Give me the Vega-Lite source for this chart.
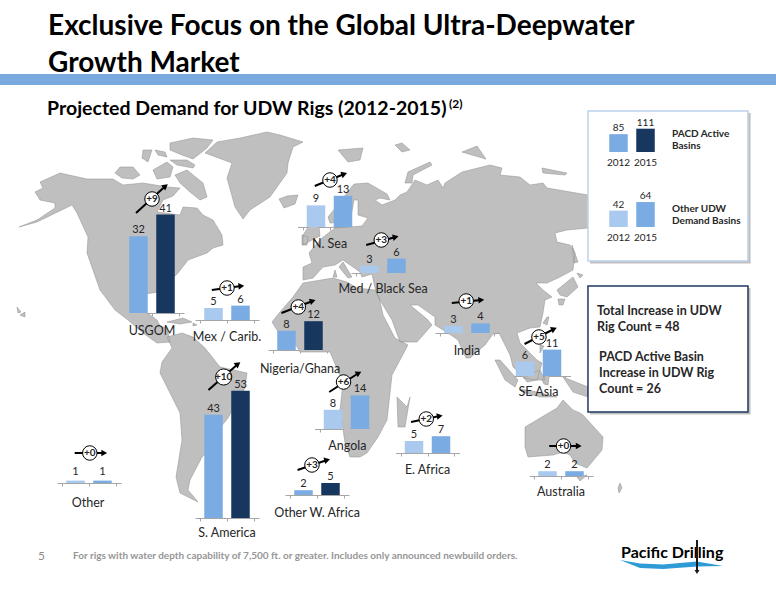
{
"$schema":"https://vega.github.io/schema/vega-lite/v6.json",
"width":776,"height":600,"padding":0,"autosize":{"type":"none"},"background":"#ffffff",
"config":{"view":{"stroke":null},"font":"Lato","legend":{"disable":true},"axis":{"disable":true,"grid":false,"labels":false,"domainColor":"#a6a6a6","tickColor":"#a6a6a6","tickSize":3,"zindex":1},"text":{"font":"Lato","fontSize":11,"color":"#262626","baseline":"alphabetic"},"rule":{"color":"#000000","strokeWidth":2}},
"data":{"values":[
{"region":"USGOM","year":2012,"rigs":32,"basin":"PACD","delta":"+9"},{"region":"USGOM","year":2015,"rigs":41,"basin":"PACD","delta":"+9"},
{"region":"Mex / Carib.","year":2012,"rigs":5,"basin":"Other","delta":"+1"},{"region":"Mex / Carib.","year":2015,"rigs":6,"basin":"Other","delta":"+1"},
{"region":"N. Sea","year":2012,"rigs":9,"basin":"Other","delta":"+4"},{"region":"N. Sea","year":2015,"rigs":13,"basin":"Other","delta":"+4"},
{"region":"Med / Black Sea","year":2012,"rigs":3,"basin":"Other","delta":"+3"},{"region":"Med / Black Sea","year":2015,"rigs":6,"basin":"Other","delta":"+3"},
{"region":"Nigeria/Ghana","year":2012,"rigs":8,"basin":"PACD","delta":"+4"},{"region":"Nigeria/Ghana","year":2015,"rigs":12,"basin":"PACD","delta":"+4"},
{"region":"India","year":2012,"rigs":3,"basin":"Other","delta":"+1"},{"region":"India","year":2015,"rigs":4,"basin":"Other","delta":"+1"},
{"region":"SE Asia","year":2012,"rigs":6,"basin":"Other","delta":"+5"},{"region":"SE Asia","year":2015,"rigs":11,"basin":"Other","delta":"+5"},
{"region":"Australia","year":2012,"rigs":2,"basin":"Other","delta":"+0"},{"region":"Australia","year":2015,"rigs":2,"basin":"Other","delta":"+0"},
{"region":"E. Africa","year":2012,"rigs":5,"basin":"Other","delta":"+2"},{"region":"E. Africa","year":2015,"rigs":7,"basin":"Other","delta":"+2"},
{"region":"Angola","year":2012,"rigs":8,"basin":"Other","delta":"+6"},{"region":"Angola","year":2015,"rigs":14,"basin":"Other","delta":"+6"},
{"region":"Other W. Africa","year":2012,"rigs":2,"basin":"PACD","delta":"+3"},{"region":"Other W. Africa","year":2015,"rigs":5,"basin":"PACD","delta":"+3"},
{"region":"S. America","year":2012,"rigs":43,"basin":"PACD","delta":"+10"},{"region":"S. America","year":2015,"rigs":53,"basin":"PACD","delta":"+10"},
{"region":"Other","year":2012,"rigs":1,"basin":"Other","delta":"+0"},{"region":"Other","year":2015,"rigs":1,"basin":"Other","delta":"+0"},
{"region":"PACD Active Basins","year":2012,"rigs":85,"basin":"PACD"},{"region":"PACD Active Basins","year":2015,"rigs":111,"basin":"PACD"},
{"region":"Other UDW Demand Basins","year":2012,"rigs":42,"basin":"Other"},{"region":"Other UDW Demand Basins","year":2015,"rigs":64,"basin":"Other"}
]},
"transform":[{"calculate":"datum.basin+datum.year","as":"key"}],
"resolve":{"scale":{"x":"independent","y":"independent"}},
"layer":[
{"data":{"values":[
{"type":"Feature","properties":{"name":"land"},"geometry":{"type":"MultiPolygon","coordinates":[
[[[1.9,22.7],[3.7,22.0],[5.5,20.8],[5.5,20.3],[4.0,20.0],[3.5,19.2],[4.3,18.8],[4.0,18.2],[6.0,17.3],[8.7,17.9],[11.3,17.9],[12.3,18.5],[14.3,18.3],[16.7,18.7],[18.0,18.8],[17.3,19.6],[16.3,20.0],[15.7,21.2],[18.0,21.5],[18.3,20.7],[19.7,20.8],[20.3,21.5],[21.3,22.0],[22.2,23.5],[22.3,24.5],[21.3,24.8],[20.7,25.3],[18.8,26.0],[17.8,27.3],[15.9,29.2],[14.5,29.4],[14.6,31.2],[15.7,32.0],[16.0,32.6],[16.7,32.8],[17.0,34.2],[15.7,34.3],[14.3,33.3],[12.8,32.0],[11.5,31.0],[10.0,29.0],[8.7,25.3],[8.8,23.7],[7.7,21.3],[7.2,20.5],[3.7,22.2],[1.9,22.7]]],
[[[17.5,17.5],[18.7,17.0],[20.3,18.3],[20.7,19.7],[20.0,20.0],[19.0,19.2],[18.0,18.3],[17.5,17.5]]],
[[[11.5,17.3],[12.0,16.7],[13.3,16.7],[14.0,17.5],[13.3,17.9],[12.2,17.8],[11.5,17.3]]],
[[[15.3,17.0],[16.7,16.2],[17.3,16.7],[17.0,17.7],[15.7,17.9],[15.3,17.0]]],
[[[17.0,16.0],[18.7,16.0],[19.5,16.5],[19.3,16.8],[17.7,16.5],[17.0,16.0]]],
[[[17.0,14.3],[19.3,13.8],[21.3,14.0],[20.7,14.8],[19.3,15.9],[18.2,15.5],[17.0,15.0],[17.0,14.3]]],
[[[14.3,15.0],[15.2,15.0],[14.8,16.2],[14.2,15.8],[14.3,15.0]]],
[[[15.5,15.0],[16.5,15.2],[16.7,15.7],[15.8,15.5],[15.5,15.0]]],
[[[20.5,15.3],[21.7,14.2],[24.0,13.8],[26.7,13.2],[28.0,13.5],[30.3,14.2],[29.3,14.7],[28.8,16.3],[28.7,17.3],[27.0,19.7],[25.0,21.0],[24.3,21.9],[23.5,20.7],[22.7,17.8],[23.2,16.3],[20.5,15.3]]],
[[[27.9,19.9],[28.7,19.6],[29.8,19.5],[29.5,20.4],[28.4,20.8],[27.9,19.9]]],
[[[1.7,30.7],[2.1,31.2],[1.8,31.3],[1.7,30.7]]],[[[2.0,31.5],[2.5,31.2],[2.5,31.7],[2.0,31.5]]],
[[[16.7,32.2],[18.3,31.8],[19.2,32.2],[18.0,32.4],[16.7,32.2]]],[[[19.3,32.3],[19.7,32.5],[19.3,32.6],[19.3,32.3]]],
[[[16.7,33.7],[18.2,33.3],[19.3,33.7],[20.5,34.8],[22.0,36.7],[24.7,37.3],[24.5,38.8],[22.8,41.8],[22.0,42.8],[22.0,44.0],[20.2,45.7],[19.0,48.0],[18.8,49.0],[19.8,50.2],[18.0,49.3],[17.6,47.7],[18.2,44.0],[18.0,41.3],[16.0,37.3],[16.2,36.2],[17.2,34.8],[16.7,33.7]]],
[[[30.3,28.0],[30.3,26.7],[31.2,26.3],[30.9,25.3],[31.3,24.8],[32.2,23.8],[33.5,22.8],[36.2,22.6],[36.8,21.8],[35.8,21.5],[35.8,20.0],[35.4,20.0],[35.0,22.2],[33.0,22.3],[32.8,21.7],[33.6,20.7],[35.4,18.4],[36.8,18.3],[38.7,19.4],[39.0,20.0],[38.0,19.8],[37.5,20.0],[38.2,20.5],[39.5,20.0],[40.0,19.5],[40.7,19.2],[41.5,18.0],[42.7,18.5],[43.8,18.0],[44.3,18.8],[44.5,18.3],[46.2,17.2],[49.0,16.5],[50.2,16.8],[50.0,17.5],[52.0,17.7],[53.0,18.5],[54.3,18.3],[54.7,18.8],[58.8,19.5],[60.0,21.0],[58.8,22.8],[56.7,23.0],[55.5,23.3],[55.7,24.2],[57.0,24.5],[57.5,25.3],[57.3,27.0],[56.0,27.7],[54.7,28.3],[53.6,28.3],[54.3,29.0],[55.2,29.7],[54.5,30.0],[54.3,31.3],[54.0,32.7],[53.0,32.8],[51.7,33.3],[52.0,34.3],[53.7,36.0],[54.2,36.3],[53.7,38.0],[52.7,38.2],[52.2,37.5],[51.3,36.7],[51.0,35.5],[50.5,34.5],[49.9,33.3],[49.3,33.4],[48.5,34.5],[47.0,35.8],[46.6,35.8],[45.8,34.0],[44.8,33.3],[43.5,32.5],[43.5,31.7],[41.8,30.5],[41.0,30.5],[42.7,31.9],[43.2,32.5],[41.7,34.2],[40.0,34.2],[39.2,32.0],[37.8,29.7],[37.5,28.8],[37.2,27.4],[36.2,27.7],[36.0,27.2],[34.3,26.0],[33.5,26.5],[32.3,26.7],[31.3,27.8],[30.3,28.0]]],
[[[34.3,26.2],[35.2,27.7],[34.8,27.8],[33.9,26.7],[34.3,26.2]]],[[[33.5,27.0],[33.7,27.7],[33.3,27.7],[33.5,27.0]]],
[[[30.9,22.6],[31.9,22.6],[32.0,23.6],[31.2,24.0],[30.3,24.5],[30.3,23.5],[30.9,22.6]]],[[[30.2,23.5],[30.8,23.7],[30.7,24.5],[30.2,24.5],[30.2,23.5]]],
[[[33.8,15.0],[36.3,14.8],[36.0,16.0],[34.8,16.2],[33.8,15.0]]],[[[39.5,14.5],[40.2,14.3],[41.0,15.0],[40.2,15.2],[39.5,14.5]]],
[[[40.5,18.3],[40.8,17.2],[43.0,16.2],[43.2,16.5],[41.3,17.5],[41.2,18.3],[40.5,18.3]]],[[[46.2,15.2],[47.7,14.6],[48.6,15.9],[47.2,15.5],[46.2,15.2]]],[[[54.2,16.8],[56.7,17.3],[56.5,17.5],[54.3,17.3],[54.2,16.8]]],
[[[57.2,24.5],[57.8,26.2],[57.4,26.3],[57.2,24.5]]],[[[57.7,27.3],[58.3,27.5],[58.0,27.8],[57.7,27.3]]],[[[55.7,29.0],[57.3,27.7],[57.8,28.7],[56.7,29.7],[56.0,29.5],[55.7,29.0]]],[[[55.8,29.9],[56.5,29.9],[56.3,30.5],[55.9,30.5],[55.8,29.9]]],[[[54.3,32.3],[54.7,31.7],[54.9,31.7],[54.7,32.5],[54.3,32.3]]],
[[[54.0,34.5],[54.4,34.6],[54.0,35.3],[54.0,34.5]]],[[[49.5,36.0],[50.0,36.0],[51.8,38.0],[51.5,38.7],[50.5,38.0],[49.5,36.0]]],[[[52.0,38.9],[53.7,39.2],[55.7,39.7],[54.0,39.7],[52.2,39.2],[52.0,38.9]]],[[[52.3,37.8],[54.0,37.0],[54.5,38.0],[53.7,38.0],[52.3,37.8]]],[[[54.2,38.0],[55.0,37.0],[54.8,38.5],[54.4,38.4],[54.2,38.0]]],
[[[56.3,37.7],[58.8,38.7],[58.8,39.7],[57.3,39.2],[56.7,38.3],[56.3,37.7]]],
[[[52.5,42.7],[55.7,40.8],[56.3,40.0],[57.3,41.0],[58.0,41.3],[58.3,41.5],[60.3,43.7],[60.2,45.0],[58.7,46.8],[57.5,46.3],[57.0,45.5],[56.3,45.2],[55.3,45.5],[52.8,45.7],[52.5,44.7],[52.5,42.7]]],[[[57.7,47.7],[58.7,47.5],[58.0,48.1],[57.7,47.7]]],[[[61.8,48.8],[62.0,48.3],[62.2,48.8],[61.9,49.3],[61.8,48.8]]],
[[[39.7,39.7],[40.7,40.7],[41.0,39.7],[40.5,42.7],[39.8,42.7],[39.7,39.7]]],
[[[30.3,28.3],[33.3,27.8],[34.7,28.2],[35.7,28.8],[37.5,29.0],[37.9,29.7],[38.3,31.5],[39.5,33.8],[40.8,34.5],[40.0,36.0],[39.2,37.5],[39.0,39.3],[38.7,42.0],[37.8,43.7],[36.7,45.3],[36.0,45.7],[35.0,45.7],[34.5,44.3],[34.3,42.9],[34.0,41.0],[34.3,38.3],[33.0,35.2],[30.0,35.2],[29.3,34.0],[28.0,33.5],[27.2,32.2],[28.0,31.2],[29.3,29.7],[30.3,28.3]]]
]}}
]},"mark":{"type":"geoshape","fill":"#bfbfbf","stroke":"#8f8f8f","strokeWidth":0.5},"projection":{"type":"identity","scale":10,"translate":[0,0]}},
{"data":{"values":[{"part":"slide"}]},"layer":[
{"mark":{"type":"rect","fill":"#7aa9de"},"encoding":{"x":{"datum":0,"scale":{"domain":[0,100],"range":[0,776],"nice":false,"zero":false}},"x2":{"datum":100},"y":{"datum":12.33,"scale":{"domain":[0,100],"range":[0,600],"nice":false,"zero":false}},"y2":{"datum":14.17}}},
{"mark":{"type":"rect","fill":"#8c8c8c","opacity":0.55},"encoding":{"x":{"datum":76.03},"x2":{"datum":96.72},"y":{"datum":18.83},"y2":{"datum":43.9}}},
{"mark":{"type":"rect","fill":"#ffffff","stroke":"#bcd2ee","strokeWidth":1.5},"encoding":{"x":{"datum":75.77},"x2":{"datum":96.39},"y":{"datum":18.5},"y2":{"datum":43.5}}},
{"mark":{"type":"rect","fill":"#8c8c8c","opacity":0.55},"encoding":{"x":{"datum":76.03},"x2":{"datum":96.72},"y":{"datum":48},"y2":{"datum":69.07}}},
{"mark":{"type":"rect","fill":"#ffffff","stroke":"#1f3864","strokeWidth":1.5},"encoding":{"x":{"datum":75.77},"x2":{"datum":96.39},"y":{"datum":47.67},"y2":{"datum":68.67}}},
{"data":{"values":[{"label":"Exclusive Focus on the Global Ultra-Deepwater\nGrowth Market"}]},"mark":{"type":"text","align":"left","lineBreak":"\n","lineHeight":37,"fontSize":28,"fontWeight":"bold","color":"#000000"},"encoding":{"x":{"datum":6.19},"y":{"datum":5.83},"text":{"field":"label"}}},
{"data":{"values":[{"label":"Projected Demand for UDW Rigs (2012-2015)"}]},"mark":{"type":"text","align":"left","fontSize":19.5,"fontWeight":"bold","color":"#000000"},"encoding":{"x":{"datum":6.06},"y":{"datum":19.17},"text":{"field":"label"}}},
{"data":{"values":[{"label":"(2)"}]},"mark":{"type":"text","align":"left","fontSize":12,"fontWeight":"bold","color":"#000000"},"encoding":{"x":{"datum":57.86},"y":{"datum":18.0},"text":{"field":"label"}}},
{"data":{"values":[{"label":"PACD Active\nBasins"}]},"mark":{"type":"text","align":"left","lineBreak":"\n","lineHeight":12.5,"fontSize":10,"fontWeight":"bold"},"encoding":{"x":{"datum":86.6},"y":{"datum":22.83},"text":{"field":"label"}}},
{"data":{"values":[{"label":"Other UDW\nDemand Basins"}]},"mark":{"type":"text","align":"left","lineBreak":"\n","lineHeight":12.5,"fontSize":10,"fontWeight":"bold"},"encoding":{"x":{"datum":86.6},"y":{"datum":35.33},"text":{"field":"label"}}},
{"data":{"values":[{"label":"Total Increase in UDW\nRig Count = 48"}]},"mark":{"type":"text","align":"left","lineBreak":"\n","lineHeight":16,"fontSize":12.5,"fontWeight":"bold"},"encoding":{"x":{"datum":76.93},"y":{"datum":52.5},"text":{"field":"label"}}},
{"data":{"values":[{"label":"PACD Active Basin\nIncrease in UDW Rig\nCount = 26"}]},"mark":{"type":"text","align":"left","lineBreak":"\n","lineHeight":16,"fontSize":12.5,"fontWeight":"bold"},"encoding":{"x":{"datum":77.2},"y":{"datum":60.17},"text":{"field":"label"}}},
{"data":{"values":[{"label":"5"}]},"mark":{"type":"text","align":"left","fontSize":12,"color":"#8c8c8c"},"encoding":{"x":{"datum":4.9},"y":{"datum":93.3},"text":{"field":"label"}}},
{"data":{"values":[{"label":"For rigs with water depth capability of 7,500 ft. or greater.  Includes only announced newbuild orders."}]},"mark":{"type":"text","align":"left","fontSize":10,"fontWeight":"bold","color":"#969696"},"encoding":{"x":{"datum":9.41},"y":{"datum":93.2},"text":{"field":"label"}}},
{"data":{"values":[{"label":"Pacific Drilling"}]},"mark":{"type":"text","align":"left","fontSize":16,"fontWeight":"bold","color":"#000000"},"encoding":{"x":{"datum":80.03},"y":{"datum":93},"text":{"field":"label"}}}
]},
{"data":{"values":[
{"type":"Feature","properties":{"name":"logo wave"},"geometry":{"type":"Polygon","coordinates":[[[62.0,56.0],[64.0,56.35],[66.3,56.45],[69.7,56.15],[72.3,56.6],[69.7,56.65],[66.3,56.9],[64.0,56.8],[62.0,56.0]]]}}
]},"mark":{"type":"geoshape","fill":"#2e9bd6"},"projection":{"type":"identity","scale":10,"translate":[0,0]}},
{"data":{"values":[
{"type":"Feature","properties":{"name":"logo drill"},"geometry":{"type":"Polygon","coordinates":[[[69.6,54.0],[69.8,54.0],[69.8,57.0],[69.95,57.0],[69.7,57.4],[69.45,57.0],[69.6,57.0],[69.6,54.0]]]}}
]},"mark":{"type":"geoshape","fill":"#1a1a1a"},"projection":{"type":"identity","scale":10,"translate":[0,0]}},

{"transform":[{"filter":"datum.region==='USGOM'"}],"encoding":{"x":{"field":"year","type":"quantitative","axis":{"disable":false,"title":null,"orient":"bottom","offset":-287,"values":[2010.5,2013.5,2016.5]},"scale":{"domain":[2010.5,2016.5],"range":[120,184],"nice":false,"zero":false}},"y":{"field":"rigs","type":"quantitative","stack":null,"scale":{"domain":[0,100],"range":[313,73],"nice":false,"zero":false}}},"layer":[
{"mark":{"type":"bar","size":18.5},"encoding":{"color":{"field":"key","type":"nominal","scale":{"domain":["PACD2012","PACD2015","Other2012","Other2015"],"range":["#7aabe2","#17375e","#a9c9ee","#7aabe2"]}}}},
{"mark":{"type":"text","dy":-3},"encoding":{"text":{"field":"rigs"}}},
{"transform":[{"filter":"datum.year===2012"}],"layer":[
{"mark":{"type":"text","fontSize":12.5,"dy":22},"encoding":{"x":{"datum":2013.5},"y":{"datum":0},"text":{"field":"region"}}},
{"mark":"rule","encoding":{"x":{"datum":2011.72},"x2":{"datum":2015},"y":{"datum":41.67},"y2":{"datum":52.9}}},
{"mark":{"type":"point","shape":"triangle-right","filled":true,"opacity":1,"color":"#000000","size":45,"angle":-38},"encoding":{"x":{"datum":2015},"y":{"datum":52.9}}},
{"mark":{"type":"circle","fill":"#ffffff","fillOpacity":1,"stroke":"#000000","strokeOpacity":1,"strokeWidth":1,"size":210},"encoding":{"x":{"datum":2013.5},"y":{"datum":47.5}}},
{"mark":{"type":"text","fontSize":10,"fontWeight":"bold","baseline":"middle"},"encoding":{"x":{"datum":2013.5},"y":{"datum":47.5},"text":{"field":"delta"}}}
]}]},

{"transform":[{"filter":"datum.region==='Mex / Carib.'"}],"encoding":{"x":{"field":"year","type":"quantitative","axis":{"disable":false,"title":null,"orient":"bottom","offset":-280,"values":[2010.5,2013.5,2016.5]},"scale":{"domain":[2010.5,2016.5],"range":[195,259],"nice":false,"zero":false}},"y":{"field":"rigs","type":"quantitative","stack":null,"scale":{"domain":[0,100],"range":[320,80],"nice":false,"zero":false}}},"layer":[
{"mark":{"type":"bar","size":18.5},"encoding":{"color":{"field":"key","type":"nominal"}}},
{"mark":{"type":"text","dy":-3},"encoding":{"text":{"field":"rigs"}}},
{"transform":[{"filter":"datum.year===2012"}],"layer":[
{"mark":{"type":"text","fontSize":12.5,"dy":21},"encoding":{"x":{"datum":2013.5},"y":{"datum":0},"text":{"field":"region"}}},
{"mark":"rule","encoding":{"x":{"datum":2011.81},"x2":{"datum":2015.09},"y":{"datum":12.5},"y2":{"datum":14.17}}},
{"mark":{"type":"point","shape":"triangle-right","filled":true,"opacity":1,"color":"#000000","size":45,"angle":-6},"encoding":{"x":{"datum":2015.09},"y":{"datum":14.17}}},
{"mark":{"type":"circle","fill":"#ffffff","fillOpacity":1,"stroke":"#000000","strokeOpacity":1,"strokeWidth":1,"size":210},"encoding":{"x":{"datum":2013.5},"y":{"datum":13.33}}},
{"mark":{"type":"text","fontSize":10,"fontWeight":"bold","baseline":"middle"},"encoding":{"x":{"datum":2013.5},"y":{"datum":13.33},"text":{"field":"delta"}}}
]}]},

{"transform":[{"filter":"datum.region==='N. Sea'"}],"encoding":{"x":{"field":"year","type":"quantitative","axis":{"disable":false,"title":null,"orient":"bottom","offset":-373,"values":[2010.5,2013.5,2016.5]},"scale":{"domain":[2010.5,2016.5],"range":[297.5,361.5],"nice":false,"zero":false}},"y":{"field":"rigs","type":"quantitative","stack":null,"scale":{"domain":[0,100],"range":[227,-13],"nice":false,"zero":false}}},"layer":[
{"mark":{"type":"bar","size":18.5},"encoding":{"color":{"field":"key","type":"nominal"}}},
{"mark":{"type":"text","dy":-3},"encoding":{"text":{"field":"rigs"}}},
{"transform":[{"filter":"datum.year===2012"}],"layer":[
{"mark":{"type":"text","fontSize":12.5,"dy":21},"encoding":{"x":{"datum":2013.5},"y":{"datum":0},"text":{"field":"region"}}},
{"mark":"rule","encoding":{"x":{"datum":2011.86},"x2":{"datum":2015.14},"y":{"datum":17.08},"y2":{"datum":22.08}}},
{"mark":{"type":"point","shape":"triangle-right","filled":true,"opacity":1,"color":"#000000","size":45,"angle":-19},"encoding":{"x":{"datum":2015.14},"y":{"datum":22.08}}},
{"mark":{"type":"circle","fill":"#ffffff","fillOpacity":1,"stroke":"#000000","strokeOpacity":1,"strokeWidth":1,"size":210},"encoding":{"x":{"datum":2013.55},"y":{"datum":19.58}}},
{"mark":{"type":"text","fontSize":10,"fontWeight":"bold","baseline":"middle"},"encoding":{"x":{"datum":2013.55},"y":{"datum":19.58},"text":{"field":"delta"}}}
]}]},

{"transform":[{"filter":"datum.region==='Med / Black Sea'"}],"encoding":{"x":{"field":"year","type":"quantitative","axis":{"disable":false,"title":null,"orient":"bottom","offset":-327,"values":[2010.5,2013.5,2016.5]},"scale":{"domain":[2010.5,2016.5],"range":[351,415],"nice":false,"zero":false}},"y":{"field":"rigs","type":"quantitative","stack":null,"scale":{"domain":[0,100],"range":[273,33],"nice":false,"zero":false}}},"layer":[
{"mark":{"type":"bar","size":18.5},"encoding":{"color":{"field":"key","type":"nominal"}}},
{"mark":{"type":"text","dy":-3},"encoding":{"text":{"field":"rigs"}}},
{"transform":[{"filter":"datum.year===2012"}],"layer":[
{"mark":{"type":"text","fontSize":12.5,"dy":20},"encoding":{"x":{"datum":2013.5},"y":{"datum":0},"text":{"field":"region"}}},
{"mark":"rule","encoding":{"x":{"datum":2011.63},"x2":{"datum":2014.91},"y":{"datum":11.67},"y2":{"datum":15}}},
{"mark":{"type":"point","shape":"triangle-right","filled":true,"opacity":1,"color":"#000000","size":45,"angle":-13},"encoding":{"x":{"datum":2014.91},"y":{"datum":15}}},
{"mark":{"type":"circle","fill":"#ffffff","fillOpacity":1,"stroke":"#000000","strokeOpacity":1,"strokeWidth":1,"size":210},"encoding":{"x":{"datum":2013.31},"y":{"datum":13.75}}},
{"mark":{"type":"text","fontSize":10,"fontWeight":"bold","baseline":"middle"},"encoding":{"x":{"datum":2013.31},"y":{"datum":13.75},"text":{"field":"delta"}}}
]}]},

{"transform":[{"filter":"datum.region==='Nigeria/Ghana'"}],"encoding":{"x":{"field":"year","type":"quantitative","axis":{"disable":false,"title":null,"orient":"bottom","offset":-250,"values":[2010.5,2013.5,2016.5]},"scale":{"domain":[2010.5,2016.5],"range":[268,332],"nice":false,"zero":false}},"y":{"field":"rigs","type":"quantitative","stack":null,"scale":{"domain":[0,100],"range":[350,110],"nice":false,"zero":false}}},"layer":[
{"mark":{"type":"bar","size":18.5},"encoding":{"color":{"field":"key","type":"nominal"}}},
{"mark":{"type":"text","dy":-3},"encoding":{"text":{"field":"rigs"}}},
{"transform":[{"filter":"datum.year===2012"}],"layer":[
{"mark":{"type":"text","fontSize":12.5,"dy":23},"encoding":{"x":{"datum":2013.5},"y":{"datum":0},"text":{"field":"region"}}},
{"mark":"rule","encoding":{"x":{"datum":2011.44},"x2":{"datum":2014.91},"y":{"datum":15.42},"y2":{"datum":20.42}}},
{"mark":{"type":"point","shape":"triangle-right","filled":true,"opacity":1,"color":"#000000","size":45,"angle":-18},"encoding":{"x":{"datum":2014.91},"y":{"datum":20.42}}},
{"mark":{"type":"circle","fill":"#ffffff","fillOpacity":1,"stroke":"#000000","strokeOpacity":1,"strokeWidth":1,"size":210},"encoding":{"x":{"datum":2013.31},"y":{"datum":17.92}}},
{"mark":{"type":"text","fontSize":10,"fontWeight":"bold","baseline":"middle"},"encoding":{"x":{"datum":2013.31},"y":{"datum":17.92},"text":{"field":"delta"}}}
]}]},

{"transform":[{"filter":"datum.region==='India'"}],"encoding":{"x":{"field":"year","type":"quantitative","axis":{"disable":false,"title":null,"orient":"bottom","offset":-267,"values":[2010.5,2013.5,2016.5]},"scale":{"domain":[2010.5,2016.5],"range":[435,499],"nice":false,"zero":false}},"y":{"field":"rigs","type":"quantitative","stack":null,"scale":{"domain":[0,100],"range":[333,93],"nice":false,"zero":false}}},"layer":[
{"mark":{"type":"bar","size":18.5},"encoding":{"color":{"field":"key","type":"nominal"}}},
{"mark":{"type":"text","dy":-3},"encoding":{"text":{"field":"rigs"}}},
{"transform":[{"filter":"datum.year===2012"}],"layer":[
{"mark":{"type":"text","fontSize":12.5,"dy":22},"encoding":{"x":{"datum":2013.5},"y":{"datum":0},"text":{"field":"region"}}},
{"mark":"rule","encoding":{"x":{"datum":2011.81},"x2":{"datum":2015.09},"y":{"datum":12.5},"y2":{"datum":13.75}}},
{"mark":{"type":"point","shape":"triangle-right","filled":true,"opacity":1,"color":"#000000","size":45,"angle":-5},"encoding":{"x":{"datum":2015.09},"y":{"datum":13.75}}},
{"mark":{"type":"circle","fill":"#ffffff","fillOpacity":1,"stroke":"#000000","strokeOpacity":1,"strokeWidth":1,"size":210},"encoding":{"x":{"datum":2013.41},"y":{"datum":13.33}}},
{"mark":{"type":"text","fontSize":10,"fontWeight":"bold","baseline":"middle"},"encoding":{"x":{"datum":2013.41},"y":{"datum":13.33},"text":{"field":"delta"}}}
]}]},

{"transform":[{"filter":"datum.region==='SE Asia'"}],"encoding":{"x":{"field":"year","type":"quantitative","axis":{"disable":false,"title":null,"orient":"bottom","offset":-224,"values":[2010.5,2013.5,2016.5]},"scale":{"domain":[2010.5,2016.5],"range":[506.5,570.5],"nice":false,"zero":false}},"y":{"field":"rigs","type":"quantitative","stack":null,"scale":{"domain":[0,100],"range":[376,136],"nice":false,"zero":false}}},"layer":[
{"mark":{"type":"bar","size":18.5},"encoding":{"color":{"field":"key","type":"nominal"}}},
{"mark":{"type":"text","dy":-3},"encoding":{"text":{"field":"rigs"}}},
{"transform":[{"filter":"datum.year===2012"}],"layer":[
{"mark":{"type":"text","fontSize":12.5,"dy":20},"encoding":{"x":{"datum":2013.5},"y":{"datum":0},"text":{"field":"region"}}},
{"mark":"rule","encoding":{"x":{"datum":2011.95},"x2":{"datum":2015.23},"y":{"datum":13.33},"y2":{"datum":19.58}}},
{"mark":{"type":"point","shape":"triangle-right","filled":true,"opacity":1,"color":"#000000","size":45,"angle":-23},"encoding":{"x":{"datum":2015.23},"y":{"datum":19.58}}},
{"mark":{"type":"circle","fill":"#ffffff","fillOpacity":1,"stroke":"#000000","strokeOpacity":1,"strokeWidth":1,"size":210},"encoding":{"x":{"datum":2013.55},"y":{"datum":16.25}}},
{"mark":{"type":"text","fontSize":10,"fontWeight":"bold","baseline":"middle"},"encoding":{"x":{"datum":2013.55},"y":{"datum":16.25},"text":{"field":"delta"}}}
]}]},

{"transform":[{"filter":"datum.region==='Australia'"}],"encoding":{"x":{"field":"year","type":"quantitative","axis":{"disable":false,"title":null,"orient":"bottom","offset":-124,"values":[2010.5,2013.5,2016.5]},"scale":{"domain":[2010.5,2016.5],"range":[529,593],"nice":false,"zero":false}},"y":{"field":"rigs","type":"quantitative","stack":null,"scale":{"domain":[0,100],"range":[476,236],"nice":false,"zero":false}}},"layer":[
{"mark":{"type":"bar","size":18.5},"encoding":{"color":{"field":"key","type":"nominal"}}},
{"mark":{"type":"text","dy":-3},"encoding":{"text":{"field":"rigs"}}},
{"transform":[{"filter":"datum.year===2012"}],"layer":[
{"mark":{"type":"text","fontSize":12.5,"dy":20},"encoding":{"x":{"datum":2013.5},"y":{"datum":0},"text":{"field":"region"}}},
{"mark":"rule","encoding":{"x":{"datum":2012.19},"x2":{"datum":2015.47},"y":{"datum":12.5},"y2":{"datum":12.5}}},
{"mark":{"type":"point","shape":"triangle-right","filled":true,"opacity":1,"color":"#000000","size":45},"encoding":{"x":{"datum":2015.47},"y":{"datum":12.5}}},
{"mark":{"type":"circle","fill":"#ffffff","fillOpacity":1,"stroke":"#000000","strokeOpacity":1,"strokeWidth":1,"size":210},"encoding":{"x":{"datum":2013.78},"y":{"datum":12.5}}},
{"mark":{"type":"text","fontSize":10,"fontWeight":"bold","baseline":"middle"},"encoding":{"x":{"datum":2013.78},"y":{"datum":12.5},"text":{"field":"delta"}}}
]}]},

{"transform":[{"filter":"datum.region==='E. Africa'"}],"encoding":{"x":{"field":"year","type":"quantitative","axis":{"disable":false,"title":null,"orient":"bottom","offset":-147,"values":[2010.5,2013.5,2016.5]},"scale":{"domain":[2010.5,2016.5],"range":[395.5,459.5],"nice":false,"zero":false}},"y":{"field":"rigs","type":"quantitative","stack":null,"scale":{"domain":[0,100],"range":[453,213],"nice":false,"zero":false}}},"layer":[
{"mark":{"type":"bar","size":18.5},"encoding":{"color":{"field":"key","type":"nominal"}}},
{"mark":{"type":"text","dy":-3},"encoding":{"text":{"field":"rigs"}}},
{"transform":[{"filter":"datum.year===2012"}],"layer":[
{"mark":{"type":"text","fontSize":12.5,"dy":21},"encoding":{"x":{"datum":2013.5},"y":{"datum":0},"text":{"field":"region"}}},
{"mark":"rule","encoding":{"x":{"datum":2011.67},"x2":{"datum":2014.86},"y":{"datum":12.92},"y2":{"datum":15.42}}},
{"mark":{"type":"point","shape":"triangle-right","filled":true,"opacity":1,"color":"#000000","size":45,"angle":-10},"encoding":{"x":{"datum":2014.86},"y":{"datum":15.42}}},
{"mark":{"type":"circle","fill":"#ffffff","fillOpacity":1,"stroke":"#000000","strokeOpacity":1,"strokeWidth":1,"size":210},"encoding":{"x":{"datum":2013.36},"y":{"datum":14.17}}},
{"mark":{"type":"text","fontSize":10,"fontWeight":"bold","baseline":"middle"},"encoding":{"x":{"datum":2013.36},"y":{"datum":14.17},"text":{"field":"delta"}}}
]}]},

{"transform":[{"filter":"datum.region==='Angola'"}],"encoding":{"x":{"field":"year","type":"quantitative","axis":{"disable":false,"title":null,"orient":"bottom","offset":-171,"values":[2010.5,2013.5,2016.5]},"scale":{"domain":[2010.5,2016.5],"range":[314.5,378.5],"nice":false,"zero":false}},"y":{"field":"rigs","type":"quantitative","stack":null,"scale":{"domain":[0,100],"range":[429,189],"nice":false,"zero":false}}},"layer":[
{"mark":{"type":"bar","size":18.5},"encoding":{"color":{"field":"key","type":"nominal"}}},
{"mark":{"type":"text","dy":-3},"encoding":{"text":{"field":"rigs"}}},
{"transform":[{"filter":"datum.year===2012"}],"layer":[
{"mark":{"type":"text","fontSize":12.5,"dy":21},"encoding":{"x":{"datum":2013.6},"y":{"datum":0},"text":{"field":"region"}}},
{"mark":"rule","encoding":{"x":{"datum":2011.58},"x2":{"datum":2014.86},"y":{"datum":15.42},"y2":{"datum":23.33}}},
{"mark":{"type":"point","shape":"triangle-right","filled":true,"opacity":1,"color":"#000000","size":45,"angle":-28},"encoding":{"x":{"datum":2014.86},"y":{"datum":23.33}}},
{"mark":{"type":"circle","fill":"#ffffff","fillOpacity":1,"stroke":"#000000","strokeOpacity":1,"strokeWidth":1,"size":210},"encoding":{"x":{"datum":2013.17},"y":{"datum":19.58}}},
{"mark":{"type":"text","fontSize":10,"fontWeight":"bold","baseline":"middle"},"encoding":{"x":{"datum":2013.17},"y":{"datum":19.58},"text":{"field":"delta"}}}
]}]},

{"transform":[{"filter":"datum.region==='Other W. Africa'"}],"encoding":{"x":{"field":"year","type":"quantitative","axis":{"disable":false,"title":null,"orient":"bottom","offset":-105,"values":[2010.5,2013.5,2016.5]},"scale":{"domain":[2010.5,2016.5],"range":[285,349],"nice":false,"zero":false}},"y":{"field":"rigs","type":"quantitative","stack":null,"scale":{"domain":[0,100],"range":[495,255],"nice":false,"zero":false}}},"layer":[
{"mark":{"type":"bar","size":18.5},"encoding":{"color":{"field":"key","type":"nominal"}}},
{"mark":{"type":"text","dy":-3},"encoding":{"text":{"field":"rigs"}}},
{"transform":[{"filter":"datum.year===2012"}],"layer":[
{"mark":{"type":"text","fontSize":12.5,"dy":22},"encoding":{"x":{"datum":2013.5},"y":{"datum":0},"text":{"field":"region"}}},
{"mark":"rule","encoding":{"x":{"datum":2011.34},"x2":{"datum":2014.63},"y":{"datum":10.42},"y2":{"datum":14.58}}},
{"mark":{"type":"point","shape":"triangle-right","filled":true,"opacity":1,"color":"#000000","size":45,"angle":-16},"encoding":{"x":{"datum":2014.63},"y":{"datum":14.58}}},
{"mark":{"type":"circle","fill":"#ffffff","fillOpacity":1,"stroke":"#000000","strokeOpacity":1,"strokeWidth":1,"size":210},"encoding":{"x":{"datum":2012.94},"y":{"datum":12.5}}},
{"mark":{"type":"text","fontSize":10,"fontWeight":"bold","baseline":"middle"},"encoding":{"x":{"datum":2012.94},"y":{"datum":12.5},"text":{"field":"delta"}}}
]}]},

{"transform":[{"filter":"datum.region==='S. America'"}],"encoding":{"x":{"field":"year","type":"quantitative","axis":{"disable":false,"title":null,"orient":"bottom","offset":-82,"values":[2010.5,2013.5,2016.5]},"scale":{"domain":[2010.5,2016.5],"range":[195,259],"nice":false,"zero":false}},"y":{"field":"rigs","type":"quantitative","stack":null,"scale":{"domain":[0,100],"range":[518,278],"nice":false,"zero":false}}},"layer":[
{"mark":{"type":"bar","size":18.5},"encoding":{"color":{"field":"key","type":"nominal"}}},
{"mark":{"type":"text","dy":-3},"encoding":{"text":{"field":"rigs"}}},
{"transform":[{"filter":"datum.year===2012"}],"layer":[
{"mark":{"type":"text","fontSize":12.5,"dy":19},"encoding":{"x":{"datum":2013.5},"y":{"datum":0},"text":{"field":"region"}}},
{"mark":"rule","encoding":{"x":{"datum":2011.44},"x2":{"datum":2014.72},"y":{"datum":53.33},"y2":{"datum":64.17}}},
{"mark":{"type":"point","shape":"triangle-right","filled":true,"opacity":1,"color":"#000000","size":45,"angle":-37},"encoding":{"x":{"datum":2014.72},"y":{"datum":64.17}}},
{"mark":{"type":"circle","fill":"#ffffff","fillOpacity":1,"stroke":"#000000","strokeOpacity":1,"strokeWidth":1,"size":260},"encoding":{"x":{"datum":2013.13},"y":{"datum":58.75}}},
{"mark":{"type":"text","fontSize":10,"fontWeight":"bold","baseline":"middle"},"encoding":{"x":{"datum":2013.13},"y":{"datum":58.75},"text":{"field":"delta"}}}
]}]},

{"transform":[{"filter":"datum.region==='Other'"}],"encoding":{"x":{"field":"year","type":"quantitative","axis":{"disable":false,"title":null,"orient":"bottom","offset":-117,"values":[2010.5,2013.5,2016.5]},"scale":{"domain":[2010.5,2016.5],"range":[57,121],"nice":false,"zero":false}},"y":{"field":"rigs","type":"quantitative","stack":null,"scale":{"domain":[0,100],"range":[483,243],"nice":false,"zero":false}}},"layer":[
{"mark":{"type":"bar","size":18.5},"encoding":{"color":{"field":"key","type":"nominal"}}},
{"mark":{"type":"text","dy":-6},"encoding":{"text":{"field":"rigs"}}},
{"transform":[{"filter":"datum.year===2012"}],"layer":[
{"mark":{"type":"text","fontSize":12.5,"dy":24},"encoding":{"x":{"datum":2013.4},"y":{"datum":0},"text":{"field":"region"}}},
{"mark":"rule","encoding":{"x":{"datum":2011.91},"x2":{"datum":2015.19},"y":{"datum":12.5},"y2":{"datum":12.5}}},
{"mark":{"type":"point","shape":"triangle-right","filled":true,"opacity":1,"color":"#000000","size":45},"encoding":{"x":{"datum":2015.19},"y":{"datum":12.5}}},
{"mark":{"type":"circle","fill":"#ffffff","fillOpacity":1,"stroke":"#000000","strokeOpacity":1,"strokeWidth":1,"size":210},"encoding":{"x":{"datum":2013.59},"y":{"datum":12.5}}},
{"mark":{"type":"text","fontSize":10,"fontWeight":"bold","baseline":"middle"},"encoding":{"x":{"datum":2013.59},"y":{"datum":12.5},"text":{"field":"delta"}}}
]}]},

{"transform":[{"filter":"datum.region==='PACD Active Basins'"}],"encoding":{"x":{"field":"year","type":"quantitative","axis":{"disable":false,"title":null,"orient":"bottom","offset":-448,"values":[2010.5,2013.5,2016.5]},"scale":{"domain":[2010.5,2016.5],"range":[600,664],"nice":false,"zero":false}},"y":{"field":"rigs","type":"quantitative","stack":null,"scale":{"domain":[0,200],"range":[152,110],"nice":false,"zero":false}}},"layer":[
{"mark":{"type":"bar","size":18.5},"encoding":{"color":{"field":"key","type":"nominal"}}},
{"mark":{"type":"text","dy":-3,"fontSize":10},"encoding":{"text":{"field":"rigs"}}},
{"mark":{"type":"text","dy":14,"fontSize":10},"encoding":{"y":{"datum":0},"text":{"field":"year","format":"d"}}}
]},

{"transform":[{"filter":"datum.region==='Other UDW Demand Basins'"}],"encoding":{"x":{"field":"year","type":"quantitative","axis":{"disable":false,"title":null,"orient":"bottom","offset":-373,"values":[2010.5,2013.5,2016.5]},"scale":{"domain":[2010.5,2016.5],"range":[600,664],"nice":false,"zero":false}},"y":{"field":"rigs","type":"quantitative","stack":null,"scale":{"domain":[0,100],"range":[227,188],"nice":false,"zero":false}}},"layer":[
{"mark":{"type":"bar","size":18.5},"encoding":{"color":{"field":"key","type":"nominal"}}},
{"mark":{"type":"text","dy":-3,"fontSize":10},"encoding":{"text":{"field":"rigs"}}},
{"mark":{"type":"text","dy":14,"fontSize":10},"encoding":{"y":{"datum":0},"text":{"field":"year","format":"d"}}}
]}
]}
